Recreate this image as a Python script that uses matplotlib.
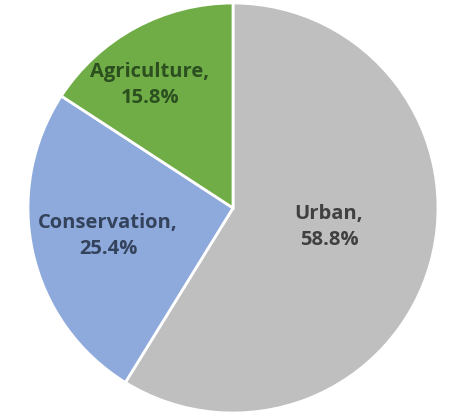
import matplotlib
matplotlib.use("Agg")
import matplotlib.pyplot as plt

categories = ["Urban", "Conservation", "Agriculture"]
values = [58.8, 25.4, 15.8]
colors = ["#BFBFBF", "#8EA9DB", "#70AD47"]
text_colors = ["#404040", "#34435C", "#2B4F1F"]
label_pos = [(96, -19), (-125, -28), (-83, 123)]

fig = plt.figure(figsize=(4.62, 4.18), dpi=100)
ax = fig.add_axes([0, 0, 1, 1])
ax.pie(values, colors=colors, startangle=90, counterclock=False, radius=205,
       wedgeprops=dict(edgecolor="white", linewidth=2))
ax.set_xlim(-233, 229)
ax.set_ylim(-210, 208)
ax.set_aspect("equal")
ax.axis("off")
for cat, v, tc, (x, y) in zip(categories, values, text_colors, label_pos):
    ax.text(x, y, f"{cat},\n{v}%", ha="center", va="center", color=tc,
            fontsize=14.5, fontweight="bold", family="Open Sans", linespacing=1.45)
fig.savefig("out.png", dpi=100)
